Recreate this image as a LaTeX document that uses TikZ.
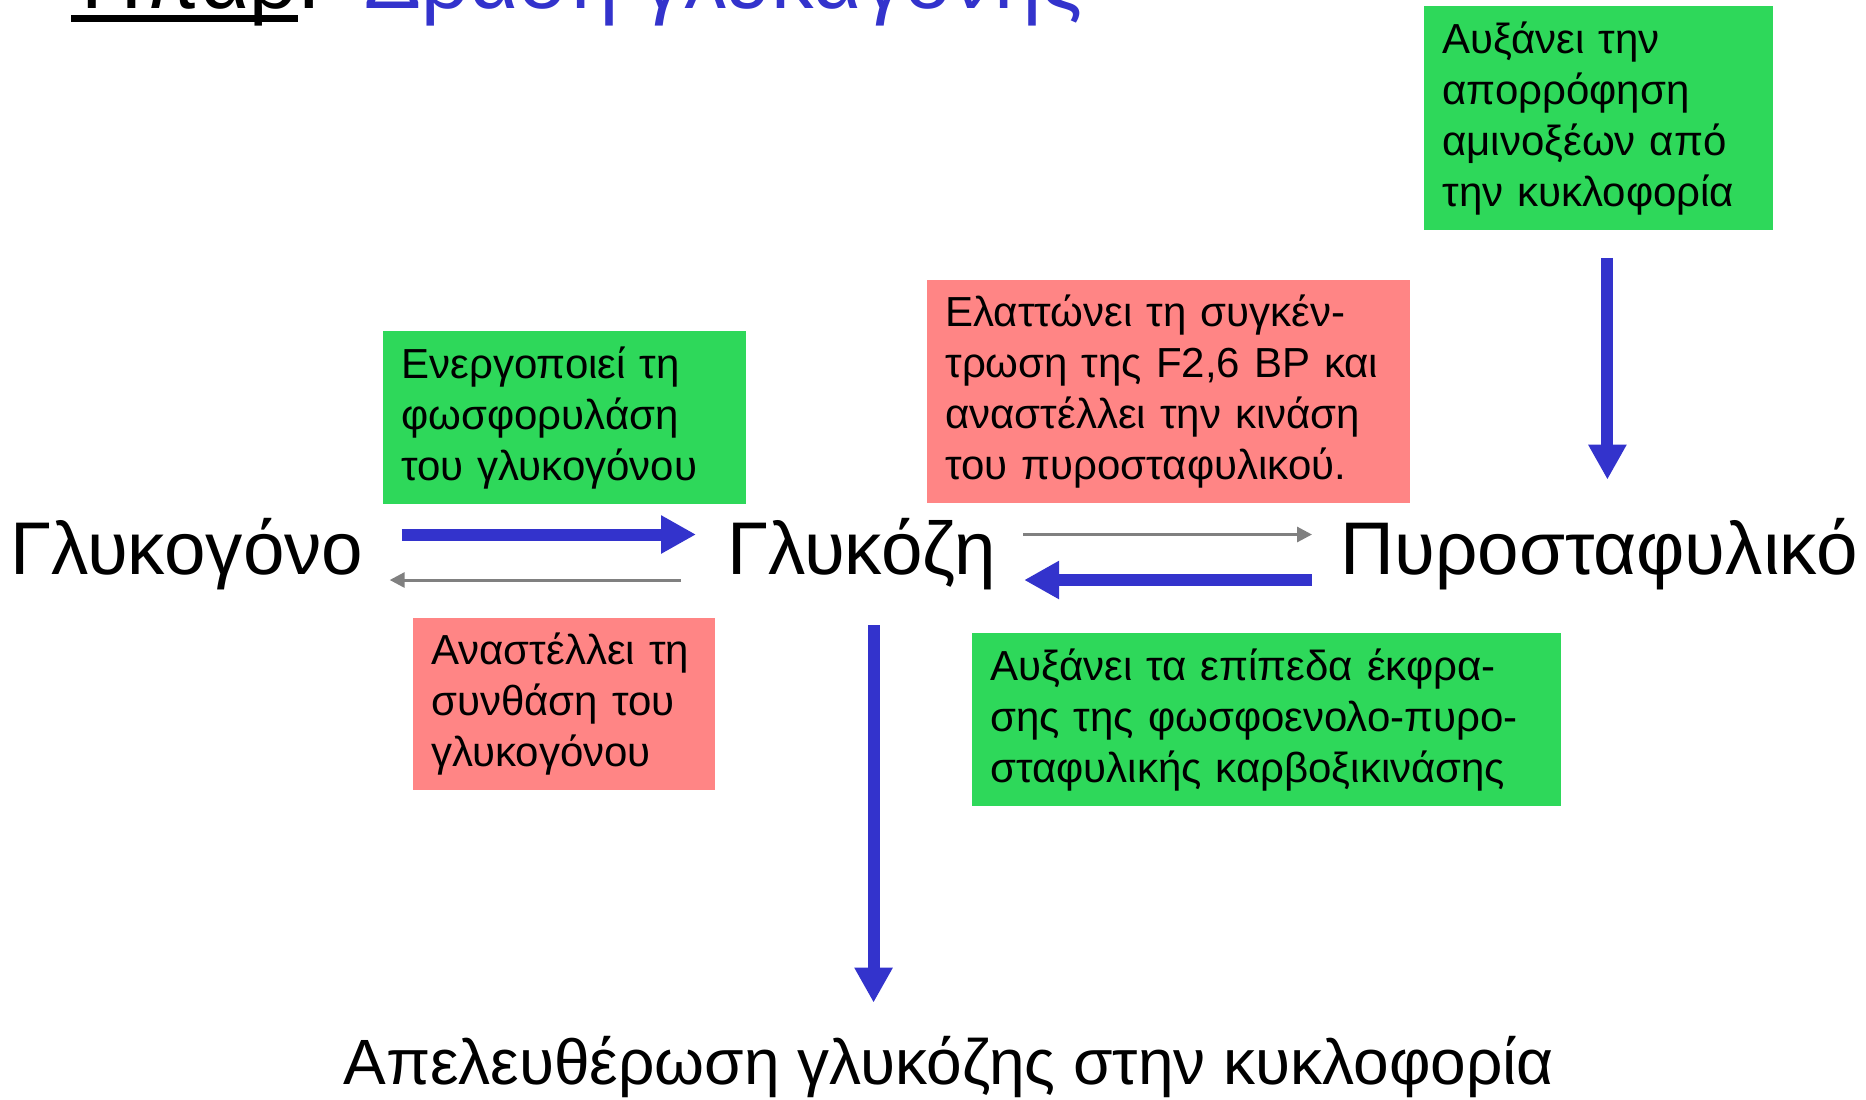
\documentclass[tikz,border=0pt]{standalone}
\usepackage{fontspec}
\setmainfont{Liberation Sans}
\usetikzlibrary{arrows.meta,calc}
\definecolor{boxGreen}{HTML}{2ED85A}
\definecolor{boxRed}{HTML}{FF8585}
\definecolor{arrBlue}{HTML}{3333CC}
\definecolor{arrGray}{HTML}{808080}
\newcommand{\thickul}[1]{\setbox0\hbox{#1}\rlap{\rule[-7pt]{\wd0}{3.5pt}}\box0}
\tikzset{
  box/.style     ={anchor=north west, align=left, inner xsep=9pt, inner ysep=0pt, font=\fontsize{21}{25.5}\selectfont},
  upbox/.style   ={box, fill=boxGreen},
  downbox/.style ={box, fill=boxRed},
  metab/.style   ={anchor=base west, inner sep=0pt, text height=20pt, text depth=0pt, font=\fontsize{37.3}{44}\selectfont},
  title/.style   ={anchor=base west, inner sep=0pt, font=\fontsize{42.5}{50}\selectfont},
  barr/.style    ={draw=arrBlue, line width=6pt, -{Triangle[length=17.5pt, width=18pt]}},
  garr/.style    ={draw=arrGray, line width=1.5pt, -{Triangle[length=7.5pt, width=7.5pt]}},
}

\begin{document}
\begin{tikzpicture}[x=0.5pt, y=-0.5pt]
  \useasboundingbox (0,0) rectangle (1866,1099);

  % title, mostly cut off at the top
  \node[title] (liver)  at (71,8)  {\thickul{Ήπαρ}:};
  \node[title, text=arrBlue] (action) at (364,8) {Δράση γλυκαγόνης};

  % metabolites
  \node[metab] (glyc) at (10,574)   {Γλυκογόνο};
  \node[metab] (gluc) at (727,574)  {Γλυκόζη};
  \node[metab] (pyr)  at (1340,574) {Πυροσταφυλικό};
  \node[metab, text height=21pt, font=\fontsize{32}{38}\selectfont] (release) at (343,1084)
    {Απελευθέρωση γλυκόζης στην κυκλοφορία};

  % effects
  \node[upbox, minimum width=181.5pt, minimum height=86.5pt, text width=163.5pt] (actphos) at (383,331)
    {Ενεργοποιεί τη\\φωσφορυλάση\\του γλυκογόνου};
  \node[downbox, minimum width=151pt, minimum height=86pt, text width=133pt] (inhsyn) at (413,618)
    {Αναστέλλει τη\\συνθάση του\\γλυκογόνου};
  \node[downbox, minimum width=241.5pt, minimum height=111.5pt, text width=223.5pt] (decf26) at (927,280)
    {Ελαττώνει τη συγκέν-\\τρωση της F2,6 BP και\\αναστέλλει την κινάση\\του πυροσταφυλικού.};
  \node[upbox, minimum width=174.5pt, minimum height=112pt, text width=156.5pt] (uptake) at (1424,6)
    {Αυξάνει την\\απορρόφηση\\αμινοξέων από\\την κυκλοφορία};
  \node[upbox, minimum width=294.5pt, minimum height=86.5pt, text width=276.5pt] (pepck) at (972,633)
    {Αυξάνει τα επίπεδα έκφρα-\\σης της φωσφοενολο-πυρο-\\σταφυλικής καρβοξικινάσης};

  % conversions
  \draw[barr, shorten <=19pt, shorten >=15.5pt] ([yshift=9.75pt]glyc.east) -- ([yshift=9.75pt]gluc.west);
  \draw[garr, shorten <=23pt, shorten >=13pt] ([yshift=-13pt]gluc.west) -- ([yshift=-13pt]glyc.east);
  \draw[garr, shorten <=13.5pt, shorten >=14pt] ([yshift=9.75pt]gluc.east) -- ([yshift=9.75pt]pyr.west);
  \draw[barr, shorten <=14pt, shorten >=14pt] ([yshift=-13pt]pyr.west) -- ([yshift=-13pt]gluc.east);
  \draw[barr, shorten <=25.5pt, shorten >=19.5pt] ([xshift=6pt]gluc.south) -- ([xshift=6pt]gluc.south |- release.north);
  \draw[barr, shorten <=13.5pt, shorten >=27pt] ([xshift=4.25pt]uptake.south) -- ([xshift=4.25pt]uptake.south |- pyr.north);
\end{tikzpicture}
\end{document}
